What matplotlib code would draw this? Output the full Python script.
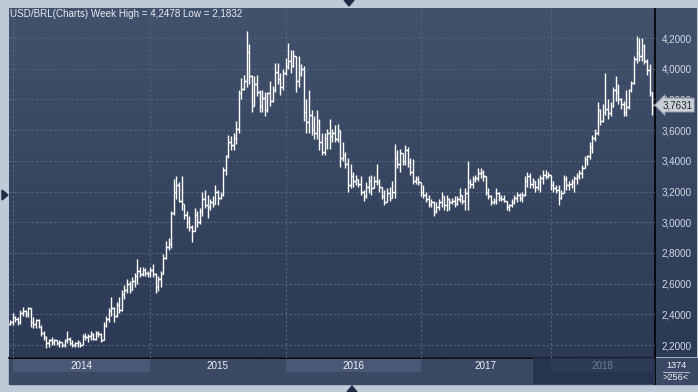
import numpy as np
import matplotlib.pyplot as plt
from matplotlib.patches import Polygon, Rectangle
from matplotlib.transforms import blended_transform_factory

W, H = 698, 392

# weekly USD/BRL bars
highs = [
    2.36, 2.41, 2.39, 2.38, 2.43, 2.45, 2.43, 2.45, 2.44, 2.38,
    2.37, 2.37, 2.33, 2.29, 2.26, 2.24, 2.25, 2.24, 2.23, 2.23,
    2.22, 2.24, 2.29, 2.25, 2.23, 2.22, 2.23, 2.22, 2.27, 2.28,
    2.27, 2.29, 2.28, 2.29, 2.29, 2.28, 2.35, 2.39, 2.44, 2.51,
    2.45, 2.48, 2.51, 2.56, 2.59, 2.63, 2.62, 2.64, 2.67, 2.76,
    2.71, 2.71, 2.70, 2.68, 2.71, 2.73, 2.67, 2.65, 2.68, 2.79,
    2.88, 2.90, 3.07, 3.28, 3.30, 3.26, 3.30, 3.12, 3.07, 3.04,
    2.98, 3.09, 3.07, 3.09, 3.20, 3.21, 3.18, 3.15, 3.17, 3.24,
    3.21, 3.20, 3.36, 3.44, 3.57, 3.56, 3.58, 3.66, 3.86, 3.94,
    3.96, 4.2478, 4.16, 3.96, 3.95, 3.96, 3.86, 3.86, 3.85, 3.85,
    3.92, 3.89, 4.04, 4.04, 3.97, 4.00, 4.07, 4.17, 4.12, 4.12,
    4.08, 4.08, 4.03, 4.02, 3.80, 3.86, 3.73, 3.69, 3.73, 3.67,
    3.58, 3.58, 3.61, 3.67, 3.61, 3.63, 3.64, 3.60, 3.52, 3.46,
    3.42, 3.38, 3.33, 3.31, 3.28, 3.30, 3.21, 3.26, 3.30, 3.31,
    3.30, 3.38, 3.28, 3.23, 3.21, 3.22, 3.23, 3.27, 3.51, 3.47,
    3.48, 3.45, 3.50, 3.49, 3.42, 3.41, 3.30, 3.30, 3.26, 3.24,
    3.20, 3.18, 3.15, 3.14, 3.13, 3.15, 3.20, 3.17, 3.18, 3.16,
    3.16, 3.17, 3.17, 3.22, 3.18, 3.22, 3.40, 3.28, 3.30, 3.31,
    3.35, 3.35, 3.34, 3.30, 3.22, 3.18, 3.16, 3.22, 3.20, 3.18,
    3.18, 3.14, 3.12, 3.15, 3.18, 3.20, 3.19, 3.20, 3.30, 3.33,
    3.32, 3.29, 3.27, 3.29, 3.31, 3.34, 3.34, 3.33, 3.31, 3.27,
    3.24, 3.24, 3.21, 3.31, 3.30, 3.27, 3.28, 3.30, 3.32, 3.34,
    3.37, 3.43, 3.44, 3.52, 3.57, 3.61, 3.78, 3.74, 3.77, 3.97,
    3.80, 3.78, 3.88, 3.95, 3.90, 3.81, 3.79, 3.86, 3.87, 3.92,
    4.08, 4.21, 4.20, 4.20, 4.16, 4.06, 4.03, 3.85,
]
lows = [
    2.33, 2.33, 2.35, 2.33, 2.34, 2.39, 2.38, 2.38, 2.32, 2.31,
    2.31, 2.31, 2.26, 2.23, 2.1832, 2.19, 2.20, 2.20, 2.20, 2.19,
    2.19, 2.19, 2.21, 2.20, 2.19, 2.19, 2.19, 2.19, 2.20, 2.23,
    2.22, 2.23, 2.23, 2.23, 2.25, 2.22, 2.23, 2.32, 2.35, 2.39,
    2.35, 2.38, 2.41, 2.42, 2.50, 2.54, 2.54, 2.56, 2.58, 2.60,
    2.64, 2.65, 2.65, 2.64, 2.64, 2.64, 2.54, 2.55, 2.58, 2.66,
    2.76, 2.82, 2.83, 3.05, 3.15, 3.13, 3.08, 3.02, 2.96, 2.94,
    2.87, 2.94, 2.97, 2.99, 3.04, 3.09, 3.03, 3.08, 3.10, 3.12,
    3.11, 3.15, 3.17, 3.31, 3.42, 3.47, 3.47, 3.51, 3.58, 3.80,
    3.86, 3.88, 3.90, 3.72, 3.76, 3.82, 3.72, 3.72, 3.69, 3.72,
    3.76, 3.78, 3.85, 3.90, 3.83, 3.86, 3.96, 4.00, 3.97, 4.01,
    3.85, 3.88, 3.95, 3.66, 3.58, 3.58, 3.57, 3.54, 3.54, 3.47,
    3.44, 3.44, 3.48, 3.48, 3.52, 3.52, 3.52, 3.36, 3.40, 3.35,
    3.20, 3.22, 3.23, 3.24, 3.23, 3.18, 3.14, 3.16, 3.19, 3.18,
    3.22, 3.24, 3.20, 3.15, 3.11, 3.13, 3.14, 3.16, 3.16, 3.35,
    3.33, 3.37, 3.37, 3.36, 3.31, 3.25, 3.25, 3.24, 3.17, 3.16,
    3.13, 3.10, 3.10, 3.04, 3.06, 3.08, 3.10, 3.08, 3.07, 3.08,
    3.12, 3.10, 3.11, 3.13, 3.12, 3.08, 3.08, 3.22, 3.22, 3.26,
    3.27, 3.29, 3.27, 3.18, 3.15, 3.11, 3.12, 3.12, 3.14, 3.14,
    3.13, 3.08, 3.07, 3.10, 3.12, 3.13, 3.14, 3.13, 3.17, 3.23,
    3.22, 3.22, 3.20, 3.21, 3.20, 3.25, 3.28, 3.29, 3.21, 3.20,
    3.19, 3.11, 3.15, 3.19, 3.21, 3.21, 3.22, 3.20, 3.25, 3.28,
    3.29, 3.35, 3.37, 3.41, 3.45, 3.53, 3.57, 3.63, 3.65, 3.70,
    3.67, 3.69, 3.75, 3.79, 3.77, 3.74, 3.69, 3.69, 3.74, 3.85,
    3.90, 4.04, 4.05, 4.05, 4.03, 3.96, 3.82, 3.70,
]
opens = [
    2.34, 2.35, 2.38, 2.37, 2.35, 2.41, 2.42, 2.40, 2.44, 2.35,
    2.34, 2.36, 2.32, 2.28, 2.25, 2.21, 2.23, 2.22, 2.23, 2.21,
    2.22, 2.20, 2.23, 2.24, 2.21, 2.20, 2.21, 2.22, 2.20, 2.26,
    2.25, 2.26, 2.27, 2.24, 2.28, 2.27, 2.23, 2.33, 2.37, 2.42,
    2.44, 2.39, 2.46, 2.43, 2.53, 2.56, 2.60, 2.56, 2.62, 2.65,
    2.68, 2.66, 2.69, 2.67, 2.66, 2.69, 2.66, 2.58, 2.63, 2.66,
    2.77, 2.84, 2.86, 3.06, 3.20, 3.24, 3.14, 3.12, 3.05, 3.00,
    2.97, 2.94, 3.05, 3.00, 3.07, 3.15, 3.11, 3.10, 3.13, 3.12,
    3.20, 3.16, 3.18, 3.34, 3.43, 3.52, 3.50, 3.55, 3.61, 3.84,
    3.87, 3.92, 4.11, 3.95, 3.76, 3.90, 3.85, 3.76, 3.81, 3.73,
    3.84, 3.79, 3.86, 3.98, 3.93, 3.88, 3.97, 4.02, 4.05, 4.02,
    4.08, 3.92, 3.97, 4.00, 3.72, 3.65, 3.70, 3.60, 3.58, 3.66,
    3.52, 3.46, 3.55, 3.58, 3.56, 3.58, 3.54, 3.60, 3.42, 3.44,
    3.38, 3.24, 3.30, 3.27, 3.28, 3.25, 3.20, 3.17, 3.23, 3.27,
    3.22, 3.27, 3.26, 3.23, 3.17, 3.13, 3.19, 3.16, 3.20, 3.42,
    3.38, 3.45, 3.40, 3.47, 3.39, 3.33, 3.27, 3.28, 3.26, 3.20,
    3.18, 3.15, 3.12, 3.13, 3.07, 3.10, 3.13, 3.17, 3.11, 3.15,
    3.13, 3.14, 3.12, 3.15, 3.18, 3.14, 3.19, 3.26, 3.25, 3.28,
    3.29, 3.32, 3.33, 3.30, 3.20, 3.17, 3.13, 3.14, 3.19, 3.16,
    3.15, 3.14, 3.10, 3.11, 3.13, 3.16, 3.18, 3.16, 3.18, 3.27,
    3.30, 3.25, 3.27, 3.23, 3.26, 3.29, 3.31, 3.30, 3.31, 3.24,
    3.22, 3.21, 3.16, 3.19, 3.28, 3.24, 3.25, 3.26, 3.29, 3.30,
    3.32, 3.35, 3.41, 3.43, 3.49, 3.55, 3.58, 3.73, 3.66, 3.72,
    3.74, 3.71, 3.76, 3.86, 3.85, 3.80, 3.77, 3.72, 3.75, 3.86,
    3.91, 4.06, 4.10, 4.08, 4.15, 4.05, 3.99, 3.85,
]
closes = [
    2.35, 2.38, 2.37, 2.35, 2.41, 2.42, 2.40, 2.44, 2.35, 2.34,
    2.36, 2.32, 2.28, 2.25, 2.21, 2.23, 2.22, 2.23, 2.21, 2.22,
    2.20, 2.23, 2.24, 2.21, 2.20, 2.21, 2.22, 2.20, 2.26, 2.25,
    2.26, 2.27, 2.24, 2.28, 2.27, 2.23, 2.33, 2.37, 2.42, 2.44,
    2.39, 2.46, 2.43, 2.53, 2.56, 2.60, 2.56, 2.62, 2.65, 2.68,
    2.66, 2.69, 2.67, 2.66, 2.69, 2.66, 2.58, 2.63, 2.66, 2.77,
    2.84, 2.86, 3.06, 3.20, 3.24, 3.14, 3.12, 3.05, 3.00, 2.97,
    2.94, 3.05, 3.00, 3.07, 3.15, 3.11, 3.10, 3.13, 3.12, 3.20,
    3.16, 3.18, 3.34, 3.43, 3.52, 3.50, 3.55, 3.61, 3.84, 3.87,
    3.92, 4.11, 3.95, 3.76, 3.90, 3.85, 3.76, 3.81, 3.73, 3.84,
    3.79, 3.86, 3.98, 3.93, 3.88, 3.97, 4.02, 4.05, 4.02, 4.08,
    3.92, 3.97, 4.00, 3.72, 3.65, 3.70, 3.60, 3.58, 3.66, 3.52,
    3.46, 3.55, 3.58, 3.56, 3.58, 3.54, 3.60, 3.42, 3.44, 3.38,
    3.24, 3.30, 3.27, 3.28, 3.25, 3.20, 3.17, 3.23, 3.27, 3.22,
    3.27, 3.26, 3.23, 3.17, 3.13, 3.19, 3.16, 3.20, 3.42, 3.38,
    3.45, 3.40, 3.47, 3.39, 3.33, 3.27, 3.28, 3.26, 3.20, 3.18,
    3.15, 3.12, 3.13, 3.07, 3.10, 3.13, 3.17, 3.11, 3.15, 3.13,
    3.14, 3.12, 3.15, 3.18, 3.14, 3.19, 3.26, 3.25, 3.28, 3.29,
    3.32, 3.33, 3.30, 3.20, 3.17, 3.13, 3.14, 3.19, 3.16, 3.15,
    3.14, 3.10, 3.11, 3.13, 3.16, 3.18, 3.16, 3.18, 3.27, 3.30,
    3.25, 3.27, 3.23, 3.26, 3.29, 3.31, 3.30, 3.31, 3.24, 3.22,
    3.21, 3.16, 3.19, 3.28, 3.24, 3.25, 3.26, 3.29, 3.30, 3.32,
    3.35, 3.41, 3.43, 3.49, 3.55, 3.58, 3.73, 3.66, 3.72, 3.74,
    3.71, 3.76, 3.86, 3.85, 3.80, 3.77, 3.72, 3.75, 3.86, 3.91,
    4.06, 4.10, 4.08, 4.15, 4.05, 3.99, 3.85, 3.7631,
]

years = ["2014", "2015", "2016", "2017", "2018"]
year_first_bar = [1, 54, 106, 158, 208]
price_ticks = [2.2, 2.4, 2.6, 2.8, 3.0, 3.2, 3.4, 3.6, 3.8, 4.0, 4.2]
symbol = "USD/BRL(Charts)"
bar_count = "1374"
zoom_text = ">256<"


def comma(v):
    return f"{v:.4f}".replace(".", ",")


FONT = "Liberation Sans"
FS = 7.1

fig = plt.figure(figsize=(W / 100, H / 100), dpi=100, facecolor="#bfcad7")

# pixel canvas for the frame, panels and decorations
bg = fig.add_axes([0, 0, 1, 1])
bg.axis("off")

top_c = np.array([0x42, 0x51, 0x6c]) / 255
bot_c = np.array([0x2b, 0x39, 0x55]) / 255
t = np.linspace(0, 1, 256)[:, None, None]
grad = top_c + (bot_c - top_c) * t
bg.imshow(grad, extent=(8.5, 696.5, 357.5, 8.5), aspect="auto", zorder=0)
bg.add_patch(Rectangle((8.5, 357.5), 688, 26, color="#3c4965", zorder=0))
bg.set_xlim(0, W)
bg.set_ylim(H, 0)

# separators
bg.plot([655, 655], [8.5, 383.5], color="black", lw=1.2, zorder=3)
bg.plot([8.5, 655], [357.8, 357.8], color="black", lw=1.2, zorder=3)

# navigation triangles
tri = "#1e2b44"
bg.add_patch(Polygon([(344, 0), (354, 0), (349, 6)], color=tri))
bg.add_patch(Polygon([(2, 190), (2, 200), (8, 195)], color=tri))
bg.add_patch(Polygon([(347, 392), (357, 392), (352, 386)], color=tri))

title = f"{symbol} Week High = {comma(max(highs))} Low = {comma(min(lows))}"
bg.text(10, 14, title, ha="left", va="center", fontsize=FS, color="#e8ecf2",
        family=FONT)

bg.text(676, 365, bar_count, ha="center", va="center", fontsize=6.6,
        color="#f2f4f7", family=FONT)
bg.plot([663, 689], [371.5, 371.5], color="#aab4c2", lw=0.8)
bg.text(676, 377.5, zoom_text, ha="center", va="center", fontsize=6.6,
        color="#f2f4f7", family=FONT)

# main chart
ax = fig.add_axes([8.5 / W, (H - 357.5) / H, 646.5 / W, 349 / H])
ax.set_facecolor("none")
for s in ax.spines.values():
    s.set_visible(False)

n = len(closes)
x = np.arange(n)
ax.set_xlim(-0.58, 248.1)
ax.set_ylim(2.1186, 4.3922)

grid_c = "#56657f"
ax.set_yticks(price_ticks)
ax.yaxis.tick_right()
ax.yaxis.set_major_formatter(plt.FuncFormatter(lambda v, p: comma(v)))
ax.tick_params(axis="y", length=0, pad=5, labelsize=FS, labelcolor="#d3dae4")
ax.set_xticks([])
for lab in ax.get_yticklabels():
    lab.set_family(FONT)
ax.grid(axis="y", color=grid_c, ls=(0, (2, 2)), lw=0.8)
for b in year_first_bar:
    ax.axvline(b, color=grid_c, ls=(0, (2, 2)), lw=0.8)
ax.set_axisbelow(True)

ax.vlines(x, lows, highs, color="white", lw=1.0, zorder=3)
ax.hlines(opens, x - 0.6, x, color="white", lw=1.0, zorder=3)
ax.hlines(closes, x, x + 0.6, color="white", lw=1.0, zorder=3)

# last price tag, drawn over the 3,8000 label as in the reference
tr = blended_transform_factory(ax.transAxes, ax.transData)
ax.text(1.011, closes[-1], comma(closes[-1]), transform=tr, ha="left",
        va="center", fontsize=FS, color="#20252d", family=FONT, zorder=5,
        clip_on=False,
        bbox=dict(boxstyle="larrow,pad=0.2", fc="#c9cdd4", ec="#8e97a5", lw=0.6))

# year strip under the chart
yr = fig.add_axes([8.5 / W, (H - 383.5) / H, 646.5 / W, 26 / H], sharex=ax)
yr.set_facecolor("none")
yr.axis("off")
yr.set_ylim(0, 1)
band_lo, band_hi = 0.44, 0.94
yr.axvspan(201.2, 248.1, 0, 1, color="#27344f", lw=0)
bounds = year_first_bar + [248.1]
for k, name in enumerate(years):
    a, b = bounds[k], bounds[k + 1]
    if k in (0, 2):
        yr.axvspan(a, b, band_lo, band_hi, color="#4a5875", lw=0)
    if k == 4:
        yr.axvspan(a, b - 0.6, band_lo, band_hi, color="#2e3b56", lw=0)
    col = "#6f7c91" if k == 4 else "#eef1f5"
    yr.text((a + b) / 2, 0.67, name, ha="center", va="center", fontsize=FS,
            color=col, family=FONT)
yr.set_xlim(-0.58, 248.1)

fig.savefig("out.png", dpi=100, facecolor=fig.get_facecolor())
